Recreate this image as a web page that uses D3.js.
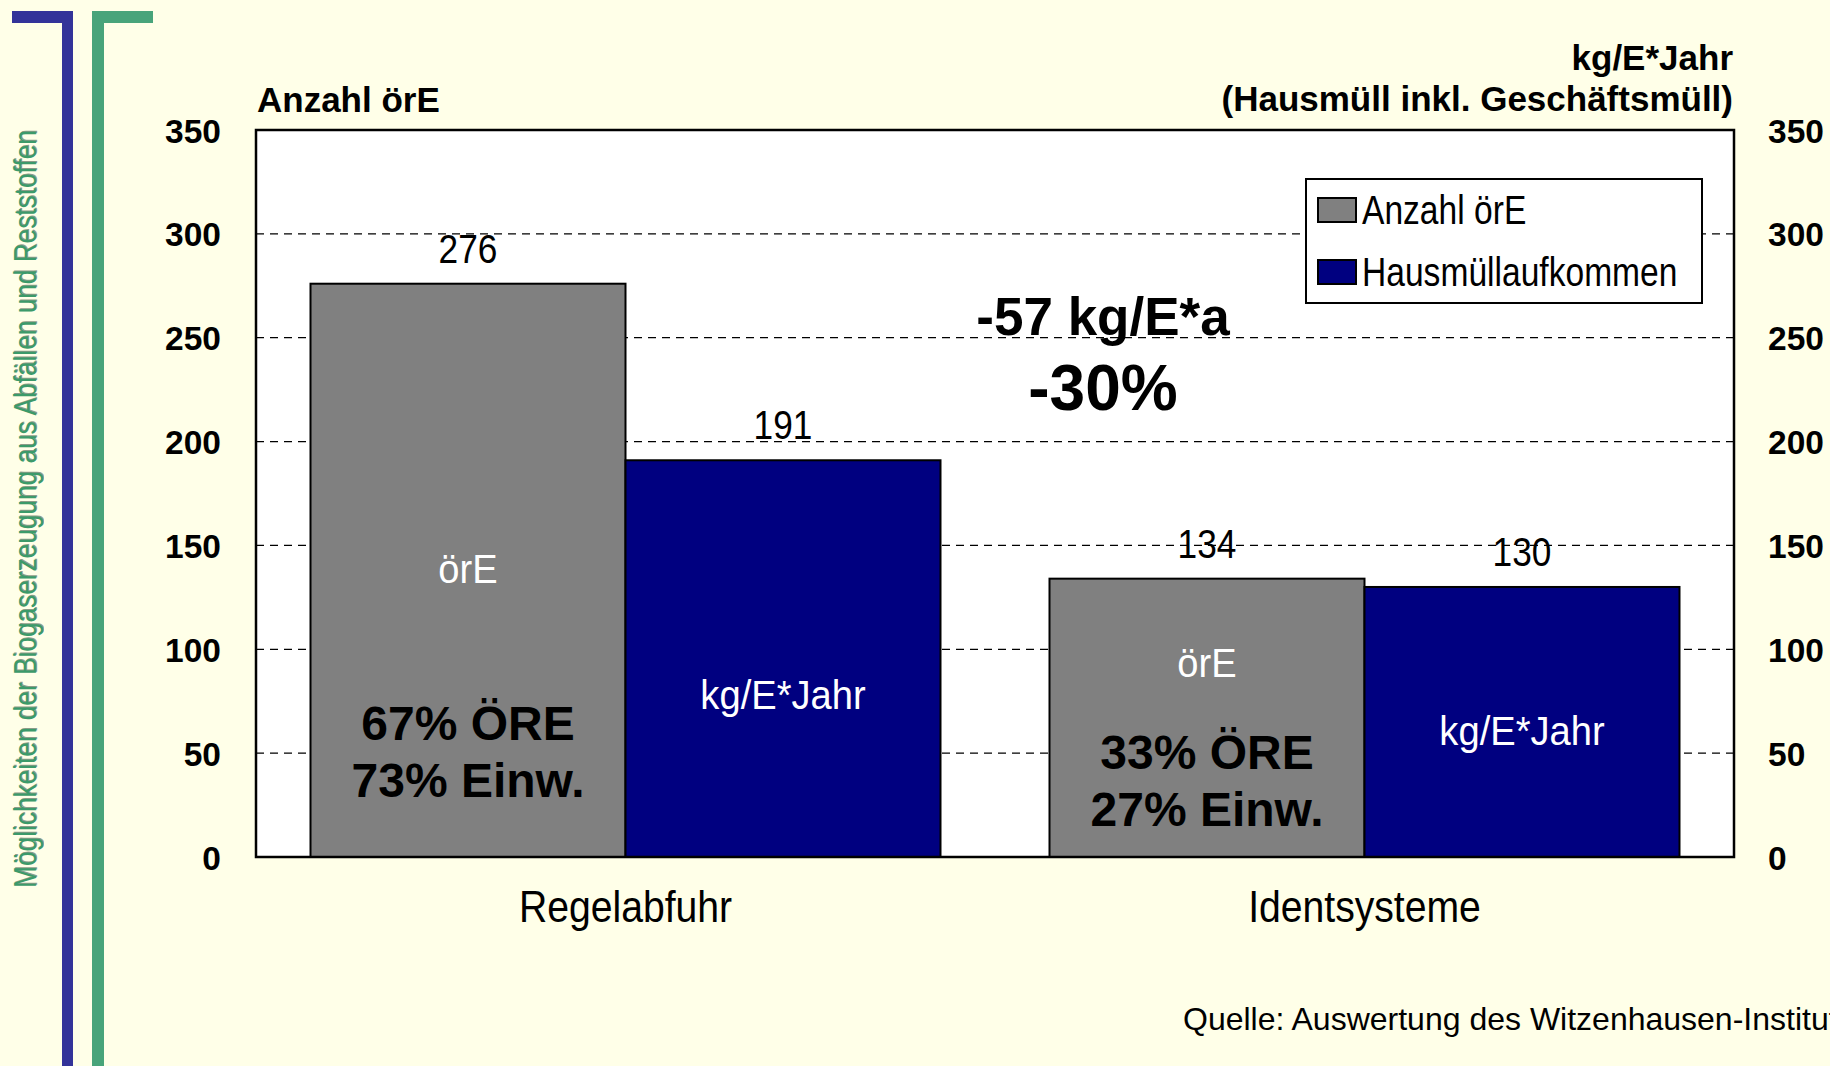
<!DOCTYPE html>
<html>
<head>
<meta charset="utf-8">
<script src="https://cdn.jsdelivr.net/npm/d3@7"></script>
<style>
  html, body { margin: 0; padding: 0; background: #FFFFE8; }
  svg { display: block; }
  text { font-family: "Liberation Sans", Arial, Helvetica, sans-serif; }
</style>
</head>
<body>
<svg id="chart" width="1830" height="1066"></svg>
<script>
// ---------- data ----------
const categories = ["Regelabfuhr", "Identsysteme"];
const seriesNames = ["Anzahl örE", "Hausmüllaufkommen"];
const anzahlOrE = [276, 134];          // left axis: Anzahl örE
const hausmuell = [191, 130];          // right axis: kg/E*Jahr
const yTicks = [0, 50, 100, 150, 200, 250, 300, 350];
const barInnerLabels = ["örE", "kg/E*Jahr"];
const shareLabels = [["67% ÖRE", "73% Einw."], ["33% ÖRE", "27% Einw."]];
const deltaLabels = ["-57 kg/E*a", "-30%"];
const leftAxisTitle = "Anzahl örE";
const rightAxisTitle = ["kg/E*Jahr", "(Hausmüll inkl. Geschäftsmüll)"];
const sideTitle = "Möglichkeiten der Biogaserzeugung aus Abfällen und Reststoffen";
const sourceText = "Quelle: Auswertung des Witzenhausen-Institut";

// ---------- layout ----------
const svg = d3.select("#chart");
const W = 1830, H = 1066;
const plot = { left: 256, right: 1734, top: 130, bottom: 857 };
const colors = ["#808080", "#000080"];

// condensed text helper (emulates a narrow typeface)
function ntext(parent, x, y, str, size, sx, anchor, fill) {
  const g = parent.append("g").attr("transform", `translate(${x},${y}) scale(${sx},1)`);
  return g.append("text").attr("x", 0).attr("y", 0)
    .attr("font-size", size).attr("text-anchor", anchor || "start")
    .attr("fill", fill || "#000").text(str);
}

svg.append("rect").attr("width", W).attr("height", H).attr("fill", "#FFFFE8");

// decorative brackets
const deco = svg.append("g");
deco.append("rect").attr("x", 12).attr("y", 11).attr("width", 61).attr("height", 12).attr("fill", "#333399");
deco.append("rect").attr("x", 62).attr("y", 11).attr("width", 11).attr("height", H).attr("fill", "#333399");
deco.append("rect").attr("x", 92).attr("y", 11).attr("width", 61).attr("height", 12).attr("fill", "#48A47A");
deco.append("rect").attr("x", 92).attr("y", 11).attr("width", 12).attr("height", H).attr("fill", "#48A47A");

// side title (rotated)
const sideG = svg.append("g").attr("transform", "translate(36,509) rotate(-90)");
ntext(sideG, 1, 1, sideTitle, 32, 0.82, "middle", "#1d3b2c").attr("opacity", 0.5);
ntext(sideG, 0, 0, sideTitle, 32, 0.82, "middle", "#3C9A6A");

// scales
const x0 = d3.scaleBand().domain(categories).range([plot.left, plot.right])
  .paddingInner(0.1475).paddingOuter(0.07375);
const x1 = d3.scaleBand().domain(seriesNames).range([0, x0.bandwidth()]).padding(0);
const yL = d3.scaleLinear().domain([0, 350]).range([plot.bottom, plot.top]);
const yR = d3.scaleLinear().domain([0, 350]).range([plot.bottom, plot.top]);

// plot background
svg.append("rect").attr("x", plot.left).attr("y", plot.top)
  .attr("width", plot.right - plot.left).attr("height", plot.bottom - plot.top)
  .attr("fill", "#ffffff");

// gridlines
svg.append("g").selectAll("line").data(yTicks.filter(d => d > 0 && d < 350)).join("line")
  .attr("x1", plot.left).attr("x2", plot.right)
  .attr("y1", d => yL(d)).attr("y2", d => yL(d))
  .attr("stroke", "#000").attr("stroke-width", 1.3).attr("stroke-dasharray", "8,6");

// bars
const groups = svg.append("g").selectAll("g").data(categories).join("g")
  .attr("transform", d => `translate(${x0(d)},0)`);
groups.each(function(cat, i) {
  const vals = [anzahlOrE[i], hausmuell[i]];
  const scales = [yL, yR];
  d3.select(this).selectAll("rect").data(seriesNames).join("rect")
    .attr("x", s => x1(s))
    .attr("y", (s, j) => scales[j](vals[j]))
    .attr("width", x1.bandwidth())
    .attr("height", (s, j) => plot.bottom - scales[j](vals[j]))
    .attr("fill", (s, j) => colors[j])
    .attr("stroke", "#000").attr("stroke-width", 2);
});

// value labels + in-bar labels
const innerPos = [[131.9, 71.3], [86.7, 53.9]];   // baselines in data units
const sharePos = [[56.3, 28.9], [42.4, 14.9]];
groups.each(function(cat, i) {
  const g = d3.select(this);
  const vals = [anzahlOrE[i], hausmuell[i]];
  const scales = [yL, yR];
  seriesNames.forEach((s, j) => {
    const cx = x1(s) + x1.bandwidth() / 2;
    ntext(g, cx, scales[j](vals[j]) - 21, String(vals[j]), 41, 0.86, "middle", "#000");
    ntext(g, cx, yL(innerPos[i][j]), barInnerLabels[j], 41, 0.93, "middle", "#fff");
  });
  shareLabels[i].forEach((t, k) => {
    g.append("text")
      .attr("x", x1(seriesNames[0]) + x1.bandwidth() / 2)
      .attr("y", yL(sharePos[i][k]))
      .attr("text-anchor", "middle").attr("font-size", 48).attr("font-weight", "bold").attr("fill", "#000")
      .text(t);
  });
});

// plot frame
svg.append("rect").attr("x", plot.left).attr("y", plot.top)
  .attr("width", plot.right - plot.left).attr("height", plot.bottom - plot.top)
  .attr("fill", "none").attr("stroke", "#000").attr("stroke-width", 2.5);

// axes
const leftAxis = d3.axisLeft(yL).tickValues(yTicks).tickSize(0).tickPadding(35);
const gL = svg.append("g").attr("transform", `translate(${plot.left},0)`).call(leftAxis);
const rightAxis = d3.axisRight(yR).tickValues(yTicks).tickSize(0).tickPadding(34);
const gR = svg.append("g").attr("transform", `translate(${plot.right},0)`).call(rightAxis);
[gL, gR].forEach(g => {
  g.select(".domain").remove();
  g.selectAll("text").attr("font-family", "Liberation Sans, Arial, sans-serif")
    .attr("font-size", 33.5).attr("font-weight", "bold")
    .attr("fill", "#000").attr("dy", "0.36em");
});

// category axis labels
categories.forEach(c => {
  ntext(svg, x0(c) + x0.bandwidth() / 2, 922, c, 45, 0.87, "middle", "#000");
});

// axis titles
svg.append("text").attr("x", 257).attr("y", 112)
  .attr("font-size", 35).attr("font-weight", "bold").text(leftAxisTitle);
rightAxisTitle.forEach((t, k) => {
  svg.append("text").attr("x", 1733).attr("y", 70 + k * 41)
    .attr("text-anchor", "end").attr("font-size", 35).attr("font-weight", "bold").text(t);
});

// delta annotation
svg.append("text").attr("x", 1103).attr("y", 335)
  .attr("text-anchor", "middle").attr("font-size", 53).attr("font-weight", "bold").text(deltaLabels[0]);
svg.append("text").attr("x", 1103).attr("y", 410)
  .attr("text-anchor", "middle").attr("font-size", 64).attr("font-weight", "bold").text(deltaLabels[1]);

// legend
const lg = svg.append("g").attr("transform", "translate(1306,179)");
lg.append("rect").attr("width", 396).attr("height", 124).attr("fill", "#fff")
  .attr("stroke", "#000").attr("stroke-width", 2);
seriesNames.forEach((s, j) => {
  lg.append("rect").attr("x", 12).attr("y", 19 + j * 62).attr("width", 38).attr("height", 24)
    .attr("fill", colors[j]).attr("stroke", "#000").attr("stroke-width", 2);
  ntext(lg, 56, 45 + j * 62, s, 40, 0.84, "start", "#000");
});

// source
svg.append("text").attr("x", 1183).attr("y", 1030)
  .attr("font-size", 32).attr("fill", "#000").text(sourceText);
</script>
</body>
</html>
